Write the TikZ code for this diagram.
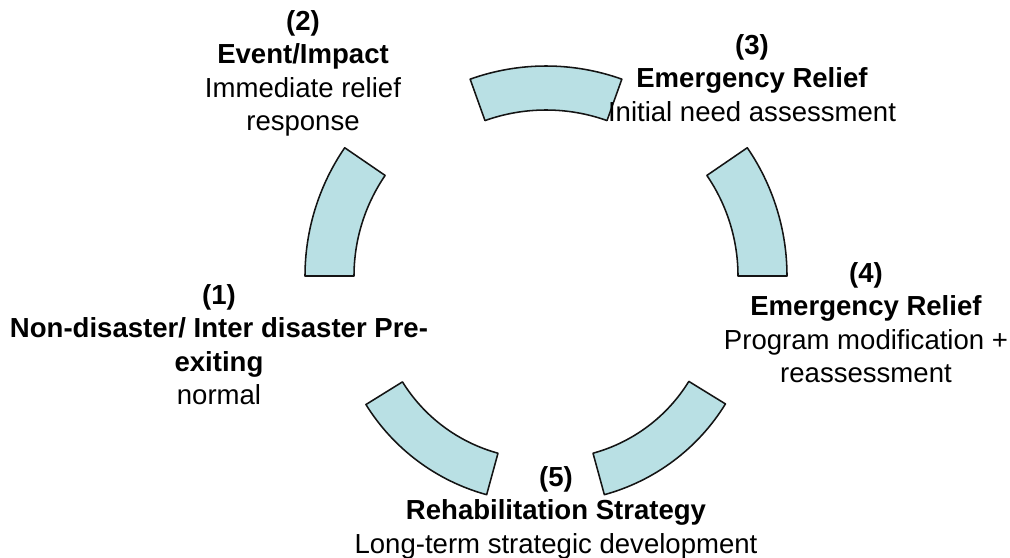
\documentclass[tikz,border=0pt]{standalone}
\usepackage{fontspec}
\setmainfont{Liberation Sans}
\usepackage{tikz}
\usetikzlibrary{positioning}
\definecolor{cycleblue}{RGB}{185,224,228}
\definecolor{cycleline}{RGB}{20,20,20}

\begin{document}
\begin{tikzpicture}[
    segment/.style={draw=cycleline, fill=cycleblue, line width=1.1pt, line join=round},
    stage/.style={align=center, inner sep=0pt, anchor=north, font=\fontsize{19.6}{23.8}\selectfont}
]
\useasboundingbox (0,0) rectangle (25.25,13.95);

% === Ring segments (each block arc has its own centre) ===
\coordinate (Ctop) at (13.65, 6.675);
\coordinate (Cul) at (13.3, 7.05);
\coordinate (Cur) at (14.0, 7.05);
\coordinate (Cll) at (13.525, 6.55);
\coordinate (Clr) at (13.75, 6.55);

% top
\draw[segment] ([shift={(70.3:5.625)}]Ctop) arc[start angle=70.3, end angle=109.7, radius=5.625]
    -- ([shift={(109.7:4.525)}]Ctop) arc[start angle=109.7, end angle=70.3, radius=4.525] -- cycle;
% upper left
\draw[segment] ([shift={(145.6:5.675)}]Cul) arc[start angle=145.6, end angle=180, radius=5.675]
    -- ([shift={(180:4.45)}]Cul) arc[start angle=180, end angle=145.6, radius=4.45] -- cycle;
% upper right
\draw[segment] ([shift={(0:5.675)}]Cur) arc[start angle=0, end angle=34.4, radius=5.675]
    -- ([shift={(34.4:4.45)}]Cur) arc[start angle=34.4, end angle=0, radius=4.45] -- cycle;
% lower left
\draw[segment] ([shift={(211.8:5.15)}]Cll) arc[start angle=211.8, end angle=254.7, radius=5.15]
    -- ([shift={(254.7:4.075)}]Cll) arc[start angle=254.7, end angle=211.8, radius=4.075] -- cycle;
% lower right
\draw[segment] ([shift={(285.3:5.15)}]Clr) arc[start angle=285.3, end angle=328.4, radius=5.15]
    -- ([shift={(328.4:4.075)}]Clr) arc[start angle=328.4, end angle=285.3, radius=4.075] -- cycle;

% === Stage labels ===
\node[stage] (stage1) at (5.475, 6.85) {\textbf{(1)}\\\textbf{Non-disaster/ Inter disaster Pre-}\\\textbf{exiting}\\normal};
\node[stage] (stage2) at (7.575, 13.7) {\textbf{(2)}\\\textbf{Event/Impact}\\Immediate relief\\response};
\node[stage] (stage3) at (18.8, 13.1) {\textbf{(3)}\\\textbf{Emergency Relief}\\Initial need assessment};
\node[stage] (stage4) at (21.65, 7.4) {\textbf{(4)}\\\textbf{Emergency Relief}\\Program modification +\\reassessment};
\node[stage] (stage5) at (13.9, 2.3) {\textbf{(5)}\\\textbf{Rehabilitation Strategy}\\Long-term strategic development};

\end{tikzpicture}
\end{document}
